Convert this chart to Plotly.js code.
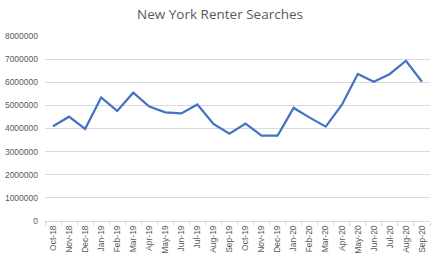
<!DOCTYPE html>
<html><head><meta charset="utf-8">
<script src="https://cdn.plot.ly/plotly-3.0.1.min.js"></script>
<style>html,body{margin:0;padding:0;background:#fff}#c{width:440px;height:259px}</style>
</head><body><div id="c"></div>
<script>
const months = ["Oct-18","Nov-18","Dec-18","Jan-19","Feb-19","Mar-19","Apr-19","May-19","Jun-19","Jul-19","Aug-19","Sep-19","Oct-19","Nov-19","Dec-19","Jan-20","Feb-20","Mar-20","Apr-20","May-20","Jun-20","Jul-20","Aug-20","Sep-20"];
const searches = [4100000,4510000,3980000,5340000,4760000,5550000,4950000,4700000,4650000,5040000,4200000,3780000,4210000,3690000,3690000,4890000,4470000,4080000,5020000,6360000,6020000,6360000,6930000,6020000];
const yTicks = [0,1000000,2000000,3000000,4000000,5000000,6000000,7000000,8000000];

Plotly.newPlot('c', [{
  x: months, y: searches, type: 'scatter', mode: 'lines',
  line: {color: '#4472C4', width: 2.25}, hoverinfo: 'none'
}], {
  width: 440, height: 259,
  margin: {l: 45, r: 10, t: 36, b: 38},
  paper_bgcolor: '#fff', plot_bgcolor: '#fff',
  font: {family: 'Liberation Sans, Arial, sans-serif', color: '#595959'},
  title: {text: 'New York Renter Searches', x: 0.5, xanchor: 'center', y: 0.962, yanchor: 'top',
          font: {size: 13.5, color: '#595959', family: 'Open Sans, Liberation Sans, sans-serif'}},
  showlegend: false,
  xaxis: {
    type: 'category', range: [-0.5, months.length - 0.5], tickangle: -90, tickfont: {size: 8.5, color: '#595959'},
    ticks: 'outside', tickson: 'boundaries', ticklen: 4, tickcolor: '#d9d9d9',
    showgrid: false, showline: true, linecolor: '#d9d9d9', linewidth: 1,
    zeroline: false, fixedrange: true
  },
  yaxis: {
    range: [0, 8000000], tickvals: yTicks, ticktext: yTicks.map(String),
    tickfont: {size: 8.5, color: '#595959'}, ticklabelstandoff: 6,
    showgrid: true, gridcolor: '#d9d9d9', gridwidth: 1,
    zeroline: false, showline: false, fixedrange: true
  }
}, {staticPlot: true, displayModeBar: false});
</script></body></html>
